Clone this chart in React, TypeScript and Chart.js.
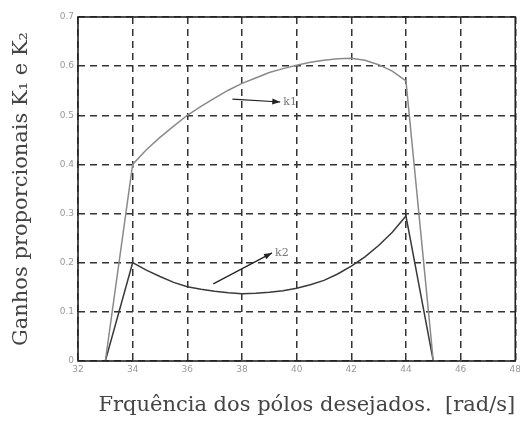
import React, { useEffect, useRef } from "react";
import { Chart, registerables } from "chart.js";

Chart.register(...registerables);

const xValues = [33, 34, 34.5, 35, 35.5, 36, 36.5, 37, 37.5, 38, 38.5, 39, 39.5, 40, 40.5, 41, 41.5, 42, 42.5, 43, 43.5, 44, 45];
const k1Values = [0, 0.4, 0.43, 0.455, 0.478, 0.5, 0.518, 0.535, 0.551, 0.565, 0.576, 0.587, 0.595, 0.602, 0.608, 0.612, 0.615, 0.616, 0.612, 0.603, 0.59, 0.57, 0];
const k2Values = [0, 0.2, 0.185, 0.172, 0.16, 0.151, 0.146, 0.142, 0.139, 0.137, 0.138, 0.14, 0.143, 0.148, 0.155, 0.164, 0.177, 0.193, 0.212, 0.235, 0.262, 0.295, 0];
const xTicks = [32, 34, 36, 38, 40, 42, 44, 46, 48];
const yTicks = [0, 0.1, 0.2, 0.3, 0.4, 0.5, 0.6, 0.7];

// annotation arrows: [startX, startY, endX, endY]
const k1Arrow = [37.65, 0.533, 39.4, 0.527];
const k2Arrow = [36.95, 0.157, 39.1, 0.22];
const arrowLabels = ["k1", "k2"];

const annotationPlugin = {
  id: "arrows",
  afterDatasetsDraw(chart: any) {
    const { ctx, scales, chartArea } = chart;
    const xs = scales.x;
    const ys = scales.y;
    ctx.save();
    ctx.strokeStyle = "#222";
    ctx.lineWidth = 1.6;
    ctx.setLineDash([]);
    ctx.strokeRect(chartArea.left, chartArea.top, chartArea.right - chartArea.left, chartArea.bottom - chartArea.top);
    const arrows = [k1Arrow, k2Arrow];
    arrows.forEach((a, i) => {
      const x1 = xs.getPixelForValue(a[0]);
      const y1 = ys.getPixelForValue(a[1]);
      const x2 = xs.getPixelForValue(a[2]);
      const y2 = ys.getPixelForValue(a[3]);
      ctx.strokeStyle = "#222";
      ctx.fillStyle = "#222";
      ctx.lineWidth = 1.2;
      ctx.beginPath();
      ctx.moveTo(x1, y1);
      ctx.lineTo(x2, y2);
      ctx.stroke();
      const ang = Math.atan2(y2 - y1, x2 - x1);
      const L = 8;
      const W = 3;
      ctx.beginPath();
      ctx.moveTo(x2, y2);
      ctx.lineTo(x2 - L * Math.cos(ang) + W * Math.sin(ang), y2 - L * Math.sin(ang) - W * Math.cos(ang));
      ctx.lineTo(x2 - L * Math.cos(ang) - W * Math.sin(ang), y2 - L * Math.sin(ang) + W * Math.cos(ang));
      ctx.closePath();
      ctx.fill();
      ctx.fillStyle = "#777";
      ctx.font = "11px 'DejaVu Serif', serif";
      ctx.textAlign = "left";
      ctx.textBaseline = "middle";
      ctx.fillText(arrowLabels[i], x2 + 3, y2);
    });
    ctx.restore();
  },
};

export default function App() {
  const ref = useRef<HTMLCanvasElement | null>(null);
  useEffect(() => {
    if (!ref.current) return;
    const chart = new Chart(ref.current, {
      type: "line",
      data: {
        labels: xValues,
        datasets: [
          {
            label: "k1",
            data: xValues.map((x, i) => ({ x, y: k1Values[i] })),
            borderColor: "#8a8a8a",
            borderWidth: 1.5,
            pointRadius: 0,
            tension: 0,
            fill: false,
          },
          {
            label: "k2",
            data: xValues.map((x, i) => ({ x, y: k2Values[i] })),
            borderColor: "#3a3a3a",
            borderWidth: 1.5,
            pointRadius: 0,
            tension: 0,
            fill: false,
          },
        ],
      },
      options: {
        animation: false,
        responsive: false,
        maintainAspectRatio: false,
        layout: { padding: { top: 17, right: 0, left: 0, bottom: 0 } },
        plugins: { legend: { display: false }, tooltip: { enabled: false } },
        scales: {
          x: {
            type: "linear",
            min: 32,
            max: 48,
            afterBuildTicks: (s: any) => {
              s.ticks = xTicks.map((v) => ({ value: v }));
            },
            ticks: {
              color: "#999",
              font: { size: 9, family: "'DejaVu Sans', sans-serif" },
              padding: 3,
              maxRotation: 0,
            },
            grid: {
              color: "#333",
              lineWidth: 1.5,
              tickLength: 0,
              drawTicks: false,
            },
            border: { display: false, dash: [7, 5] },
            title: {
              display: true,
              align: "end",
              text: "Frquência dos pólos desejados.  [rad/s]",
              color: "#444",
              font: { size: 21, family: "'DejaVu Serif', serif", weight: "normal" },
              padding: { top: 6, bottom: 6 },
            },
            afterFit: (s: any) => {
              s.height = 63;
            },
          },
          y: {
            type: "linear",
            min: 0,
            max: 0.7,
            afterBuildTicks: (s: any) => {
              s.ticks = yTicks.map((v) => ({ value: v }));
            },
            ticks: {
              color: "#999",
              font: { size: 9, family: "'DejaVu Sans', sans-serif" },
              padding: 4,
              callback: (v: any) => (Number(v) === 0 ? "0" : Number(v).toFixed(1)),
            },
            grid: {
              color: "#333",
              lineWidth: 1.5,
              tickLength: 0,
              drawTicks: false,
            },
            border: { display: false, dash: [7, 5] },
            title: {
              display: true,
              text: "Ganhos proporcionais K₁ e K₂",
              color: "#444",
              font: { size: 21, family: "'DejaVu Serif', serif", weight: "normal" },
              padding: { top: 9, bottom: 9 },
            },
            afterFit: (s: any) => {
              s.width = 78;
            },
          },
        },
      },
      plugins: [annotationPlugin],
    } as any);
    return () => chart.destroy();
  }, []);
  return (
    <div style={{ position: "fixed", left: 0, top: 0, width: 524, height: 424, background: "#fff" }}>
      <canvas ref={ref} width={524} height={424} />
    </div>
  );
}
